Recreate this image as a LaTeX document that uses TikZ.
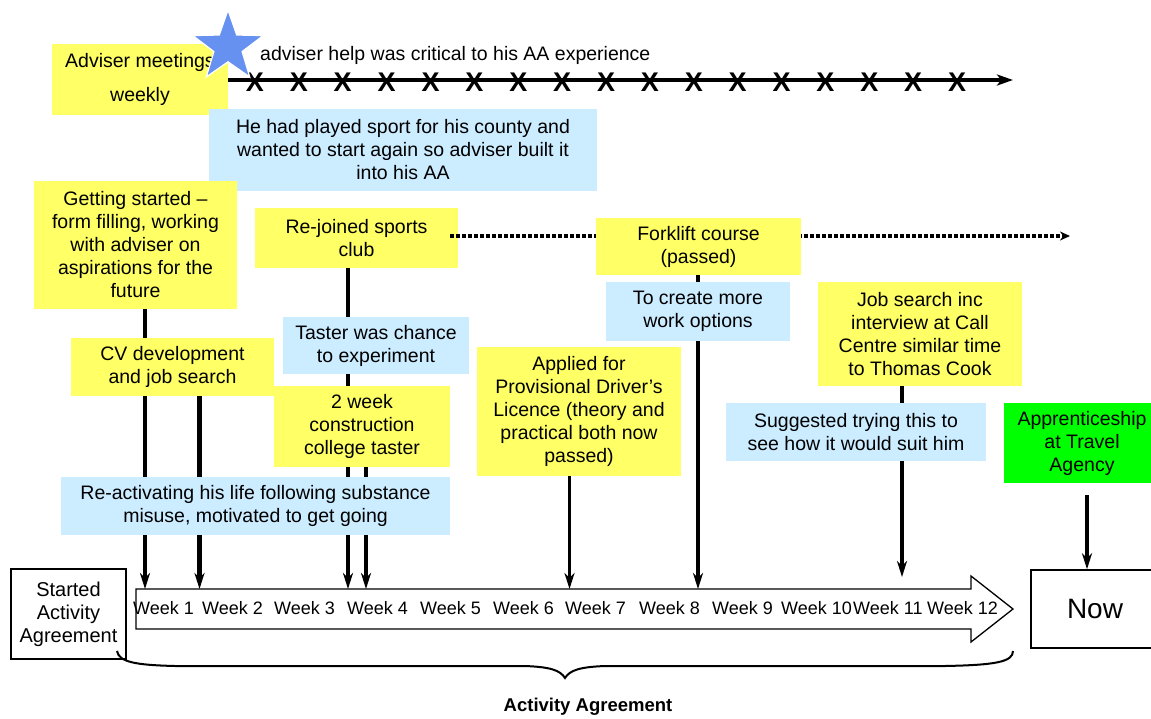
\documentclass[tikz,border=0pt]{standalone}
\usepackage{fontspec}
\setmainfont{Liberation Sans}
\usetikzlibrary{arrows.meta,shapes.geometric,calc}
\pgfdeclarelayer{bg}
\pgfsetlayers{bg,main}
\definecolor{yel}{RGB}{255,255,102}
\definecolor{lblue}{RGB}{204,236,255}
\definecolor{grn}{RGB}{0,255,0}
\definecolor{starblue}{RGB}{102,145,240}
\newcommand\bxfont{\fontsize{19.5}{23}\selectfont}
\begin{document}
\begin{tikzpicture}[x=1pt,y=-1pt,
 box/.style={inner sep=0pt,align=center,font=\bxfont},
 ybox/.style={box,fill=yel},
 bbox/.style={box,fill=lblue},
 gbox/.style={box,fill=grn},
 conn/.style={line width=3.5pt,-{Stealth[length=16pt,width=10pt,inset=5pt]}},
 thickconn/.style={conn,line width=4.5pt},
 xmark/.style={inner sep=0pt,font=\bfseries\fontsize{27}{27}\selectfont},
 wklabel/.style={inner sep=0pt,anchor=base west,font=\fontsize{18}{20}\selectfont},
 frame/.style={draw,line width=1.5pt,inner sep=0pt,align=center}
]
\useasboundingbox (0,0) rectangle (1151,718);
\begin{pgfonlayer}{bg}
\fill[white] (0,0) rectangle (1151,718);
\end{pgfonlayer}

% boxes
\node[ybox,minimum width=176pt,minimum height=71pt] (adviser) at (140,79) {Adviser meetings\\[11pt]weekly};
\node[bbox,minimum width=388pt,minimum height=82pt] (sport) at (403,150) {He had played sport for his county and\\wanted to start again so adviser built it\\into his AA};
\node[ybox,minimum width=203pt,minimum height=128pt] (getting) at (135.5,245) {Getting started –\\form filling, working\\with adviser on\\aspirations for the\\future};
\node[ybox,minimum width=203pt,minimum height=60pt] (rejoined) at (356.5,238) {Re-joined sports\\club};
% dotted continuation (above Re-joined, below Forklift)
\coordinate (dotend) at (1070,236);
\path ($(dotend -| rejoined.east)+(-8,0)$) coordinate (dotstart);
\draw[line width=3.5pt,dash pattern=on 3.5pt off 2.5pt,-{Stealth[length=10pt,width=9pt]}] (dotstart) -- (dotend);
\node[ybox,minimum width=205pt,minimum height=57pt] (forklift) at (698.5,246.5) {Forklift course\\(passed)};
\node[bbox,minimum width=184pt,minimum height=59pt] (create) at (698,311.5) {To create more\\work options};
\node[ybox,minimum width=204pt,minimum height=104pt] (jobsearch) at (920,334) {Job search inc\\interview at Call\\Centre similar time\\to Thomas Cook};
\node[bbox,minimum width=186pt,minimum height=57pt] (taster) at (376,345.5) {Taster was chance\\to experiment};
\node[ybox,minimum width=203pt,minimum height=58pt] (cv) at (172.5,367) {CV development\\and job search};
\node[ybox,minimum width=176pt,minimum height=81pt] (twoweek) at (362,426.5) {2 week\\construction\\college taster};
\node[bbox,minimum width=389pt,minimum height=58pt] (react) at (255.5,506) {Re-activating his life following substance\\misuse, motivated to get going};
\node[ybox,minimum width=204pt,minimum height=129pt] (applied) at (579,411.5) {Applied for\\Provisional Driver’s\\Licence (theory and\\practical both now\\passed)};
\node[bbox,minimum width=260pt,minimum height=58pt] (suggest) at (856,432) {Suggested trying this to\\see how it would suit him};
\node[gbox,minimum width=156pt,minimum height=80pt] (appr) at (1082,443) {Apprenticeship\\at Travel\\Agency};

% top timeline
\coordinate (topend) at (1013,80);
\draw[line width=3.5pt,-{Stealth[length=16pt,width=11pt,inset=4pt]}] (topend -| adviser.east) -- (topend);
\foreach \i in {0,...,16} \node[xmark] (xm\i) at ({255+43.875*\i},82.5) {X};
\node[star,star points=5,star point ratio=2.5,fill=starblue,draw=white,line width=1.2pt,minimum size=74pt,inner sep=0pt] (star) at (228,47) {};
\node[inner sep=0pt,anchor=base west,font=\bxfont] (help) at (260,60) {adviser help was critical to his AA experience};

% week arrow
\draw[line width=1.3pt,fill=white] (136,589) -- (971,589) -- (971,576) -- (1013,609) -- (971,642) -- (971,629) -- (136,629) -- cycle;
\coordinate (wk) at (0,589);
\coordinate (wk2) at (0,577);
\foreach \x/\n in {133/1,202/2,274/3,347/4,420/5,493/6,565/7,639/8,712/9,781/10,853/11,927/12}
  \node[wklabel] (w\n) at (\x,614) {Week \n};

\node[frame,minimum width=115pt,minimum height=90pt,font=\fontsize{20}{23}\selectfont] (started) at (68.5,614) {Started\\Activity\\Agreement};
\node[frame,minimum width=128pt,minimum height=78pt,font=\fontsize{28}{32}\selectfont] (now) at (1095,609) {Now};

% brace
\draw[line width=2pt] (117,651) .. controls (119,662) and (135,665) .. (175,666) -- (525,666) .. controls (550,667) and (560,670) .. (565,678) .. controls (570,670) and (580,667) .. (605,666) -- (945,666) .. controls (995,665) and (1013,662) .. (1013,651);
\node[font=\bfseries\fontsize{18.5}{22}\selectfont,inner sep=0pt] (aa) at (588,707) {Activity Agreement};

% connectors
\path ($(getting.south)+(9.5,0)$) coordinate (a1);
\path ($(cv.south)+(27,0)$) coordinate (a2);
\path ($(rejoined.south)+(-8.5,0)$) coordinate (a3);
\path ($(twoweek.south)+(4,0)$) coordinate (a4);
\path ($(applied.south)+(-9.5,0)$) coordinate (a5);
\path ($(forklift.south)+(-0.5,0)$) coordinate (a6);
\path ($(jobsearch.south)+(-18,0)$) coordinate (a7);
\path ($(appr.south)+(5,12)$) coordinate (a8);
\begin{pgfonlayer}{bg}
\draw[conn] (a1) -- (a1 |- wk);
\draw[thickconn] (a2) -- (a2 |- wk);
\draw[conn] (a3) -- (a3 |- wk);
\draw[conn] (a4) -- (a4 |- wk);
\draw[conn] (a5) -- (a5 |- wk);
\draw[conn] (a6) -- (a6 |- wk);
\draw[conn] (a7) -- (a7 |- wk2);
\draw[thickconn] (a8) -- (a8 |- now.north);
\end{pgfonlayer}
\end{tikzpicture}
\end{document}
